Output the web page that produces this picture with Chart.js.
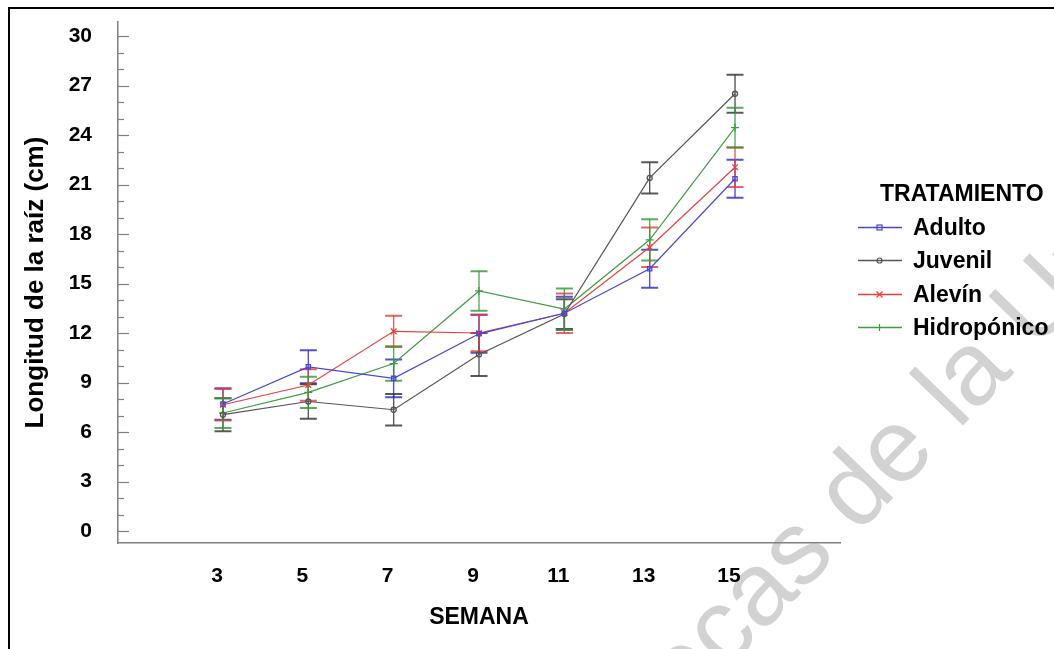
<!DOCTYPE html>
<html>
<head>
<meta charset="utf-8">
<script src="https://cdn.jsdelivr.net/npm/chart.js@4.4.1/dist/chart.umd.min.js"></script>
<style>
html,body{margin:0;padding:0;background:#fff;overflow:hidden;}
#wrap{position:relative;width:1054px;height:649px;overflow:hidden;}
#wm{position:absolute;left:425px;top:856px;transform-origin:0 0;transform:rotate(-46deg);font:104px "Liberation Sans",Arial,sans-serif;line-height:104px;color:#d2d2d2;white-space:nowrap;}
#c{position:absolute;left:0;top:0;}
#frame{position:absolute;left:8px;top:7px;width:1060px;height:670px;border:2px solid #000;box-sizing:border-box;pointer-events:none;}
#legend{position:absolute;left:0;top:0;font-family:"Liberation Sans",Arial,sans-serif;font-weight:bold;font-size:23px;color:#000;}
#legend .row{position:absolute;white-space:nowrap;line-height:33px;height:33px;}
#legend svg{position:absolute;left:0;top:11px;}
</style>
</head>
<body>
<div id="wrap">
  <div id="wm">Bibliotecas de la Universidad</div>
  <canvas id="c" width="1054" height="649"></canvas>
  <div id="legend"></div>
  <div id="frame"></div>
</div>
<script>
// ---- data ----
const weeks = [3, 5, 7, 9, 11, 13, 15];
const seriesNames = ['Adulto', 'Juvenil', 'Alevín', 'Hidropónico'];
const adulto      = [7.7, 9.95, 9.25, 11.95, 13.2, 15.9, 21.35];
const juvenil     = [7.05, 7.85, 7.35, 10.7, 13.15, 21.4, 26.5];
const alevin      = [7.65, 8.85, 12.1, 12.0, 13.2, 17.2, 22.05];
const hidroponico = [7.15, 8.4, 10.15, 14.55, 13.45, 17.65, 24.45];
const adultoErr      = [0.95, 1.0, 1.15, 1.15, 1.0, 1.15, 1.15];
const juvenilErr     = [1.0, 1.05, 0.95, 1.3, 0.9, 0.95, 1.15];
const alevinErr      = [0.95, 0.95, 0.95, 1.1, 1.2, 1.2, 1.2];
const hidroponicoErr = [0.9, 0.95, 1.05, 1.2, 1.25, 1.25, 1.2];
const xTicks = [3, 5, 7, 9, 11, 13, 15];
const yTicks = [0, 3, 6, 9, 12, 15, 18, 21, 24, 27, 30];
const yMinorTicks = [0,1,2,3,4,5,6,7,8,9,10,11,12,13,14,15,16,17,18,19,20,21,22,23,24,25,26,27,28,29,30];
const xTitle = 'SEMANA';
const yTitle = 'Longitud de la raíz (cm)';
const legendTitle = 'TRATAMIENTO';

// ---- styles ----
const values = [adulto, juvenil, alevin, hidroponico];
const errs = [adultoErr, juvenilErr, alevinErr, hidroponicoErr];
const lineColors = ['#4747d6', '#555555', '#e5413f', '#3f9c3f'];
const errColors = ['rgba(50,50,210,0.85)', 'rgba(60,60,60,0.85)', 'rgba(225,60,60,0.8)', 'rgba(50,150,50,0.8)'];
const pointStyles = ['rect', 'circle', 'crossRot', 'cross'];
const pointRadii = [3, 2.5, 4, 4];
const FONT = '"Liberation Sans", Arial, sans-serif';

const datasets = seriesNames.map((name, i) => ({
  label: name,
  data: weeks.map((w, j) => ({x: w, y: values[i][j]})),
  err: errs[i],
  errColor: errColors[i],
  borderColor: lineColors[i],
  backgroundColor: 'rgba(0,0,0,0)',
  borderWidth: 1.2,
  pointStyle: pointStyles[i],
  pointRadius: pointRadii[i],
  pointBorderWidth: 1.3,
  pointBorderColor: lineColors[i],
  pointBackgroundColor: 'rgba(255,255,255,0)',
  tension: 0,
  fill: false
}));

const errorBars = {
  id: 'errorBars',
  beforeDatasetsDraw(chart) {
    const {ctx, scales: {x, y}} = chart;
    ctx.save();
    chart.data.datasets.forEach(ds => {
      ds.data.forEach((p, j) => {
        const e = ds.err[j];
        const px = x.getPixelForValue(p.x);
        const t = y.getPixelForValue(p.y + e);
        const b = y.getPixelForValue(p.y - e);
        ctx.strokeStyle = ds.errColor;
        ctx.lineWidth = 1.4;
        ctx.beginPath(); ctx.moveTo(px, t); ctx.lineTo(px, b); ctx.stroke();
        ctx.lineWidth = 2;
        ctx.beginPath();
        ctx.moveTo(px - 8.5, t); ctx.lineTo(px + 8.5, t);
        ctx.moveTo(px - 8.5, b); ctx.lineTo(px + 8.5, b);
        ctx.stroke();
      });
    });
    ctx.restore();
  }
};

const innerTicks = {
  id: 'innerTicks',
  afterDraw(chart) {
    const {ctx, chartArea, scales: {y}} = chart;
    ctx.save();
    ctx.strokeStyle = '#808080';
    ctx.lineWidth = 1.2;
    yMinorTicks.forEach(v => {
      const py = Math.round(y.getPixelForValue(v)) + 0.5;
      const len = (v % 3 === 0) ? 11 : 6;
      ctx.beginPath();
      ctx.moveTo(chartArea.left, py);
      ctx.lineTo(chartArea.left + len, py);
      ctx.stroke();
    });
    ctx.restore();
  }
};

new Chart(document.getElementById('c'), {
  type: 'line',
  data: {datasets},
  options: {
    responsive: false,
    animation: false,
    layout: {padding: {left: 0, top: 22, right: 214, bottom: 0}},
    plugins: {legend: {display: false}, tooltip: {enabled: false}},
    scales: {
      x: {
        type: 'linear',
        min: 0.54, max: 17.46,
        afterBuildTicks: s => { s.ticks = xTicks.map(v => ({value: v})); },
        afterFit: s => { s.height = 106; s.paddingLeft = 0; s.paddingRight = 0; },
        grid: {display: false, drawTicks: false},
        border: {display: true, color: '#808080', width: 1.5},
        ticks: {
          padding: 21,
          labelOffset: -6,
          color: '#000',
          font: {family: FONT, size: 21, weight: 'bold'},
          callback: v => String(v),
          autoSkip: false, maxRotation: 0
        },
        title: {display: true, text: xTitle, color: '#000',
          font: {family: FONT, size: 23, weight: 'bold'},
          padding: {top: 18, bottom: 18}}
      },
      y: {
        type: 'linear',
        min: -0.727, max: 30.85,
        afterBuildTicks: s => { s.ticks = yTicks.map(v => ({value: v})); },
        afterFit: s => { s.width = 118; s.paddingTop = 0; s.paddingBottom = 0; },
        grid: {display: false, drawTicks: false},
        border: {display: true, color: '#808080', width: 1.5},
        ticks: {
          padding: 26,
          color: '#000',
          font: {family: FONT, size: 21, weight: 'bold'},
          callback: v => String(v)
        },
        title: {display: true, text: yTitle, color: '#000',
          font: {family: FONT, size: 26, weight: 'bold'},
          padding: {top: 20, bottom: 20}}
      }
    }
  },
  plugins: [errorBars, innerTicks]
});

// ---- legend (HTML, built from the series arrays) ----
function markerSvg(i) {
  const c = lineColors[i];
  let m = '';
  if (pointStyles[i] === 'rect') m = `<rect x="19" y="3" width="5" height="5" fill="none" stroke="${c}" stroke-width="1.2"/>`;
  else if (pointStyles[i] === 'circle') m = `<circle cx="21.5" cy="5.5" r="2.5" fill="none" stroke="${c}" stroke-width="1.2"/>`;
  else if (pointStyles[i] === 'crossRot') m = `<path d="M18.5 2.5 L24.5 8.5 M24.5 2.5 L18.5 8.5" stroke="${c}" stroke-width="1.2"/>`;
  else m = `<path d="M21.5 2 L21.5 9" stroke="${c}" stroke-width="1.2"/>`;
  return `<svg width="44" height="11" viewBox="0 0 44 11"><line x1="0" y1="5.5" x2="44" y2="5.5" stroke="${c}" stroke-width="1.3"/>${m}</svg>`;
}
const lg = document.getElementById('legend');
let html = `<div class="row" style="left:880px;top:177px;">${legendTitle}</div>`;
const rowTops = [211, 244, 278, 311];
seriesNames.forEach((n, i) => {
  html += `<div class="row" style="left:858px;top:${rowTops[i]}px;">${markerSvg(i)}<span style="position:absolute;left:55px;top:0;">${n}</span></div>`;
});
lg.innerHTML = html;
</script>
</body>
</html>
